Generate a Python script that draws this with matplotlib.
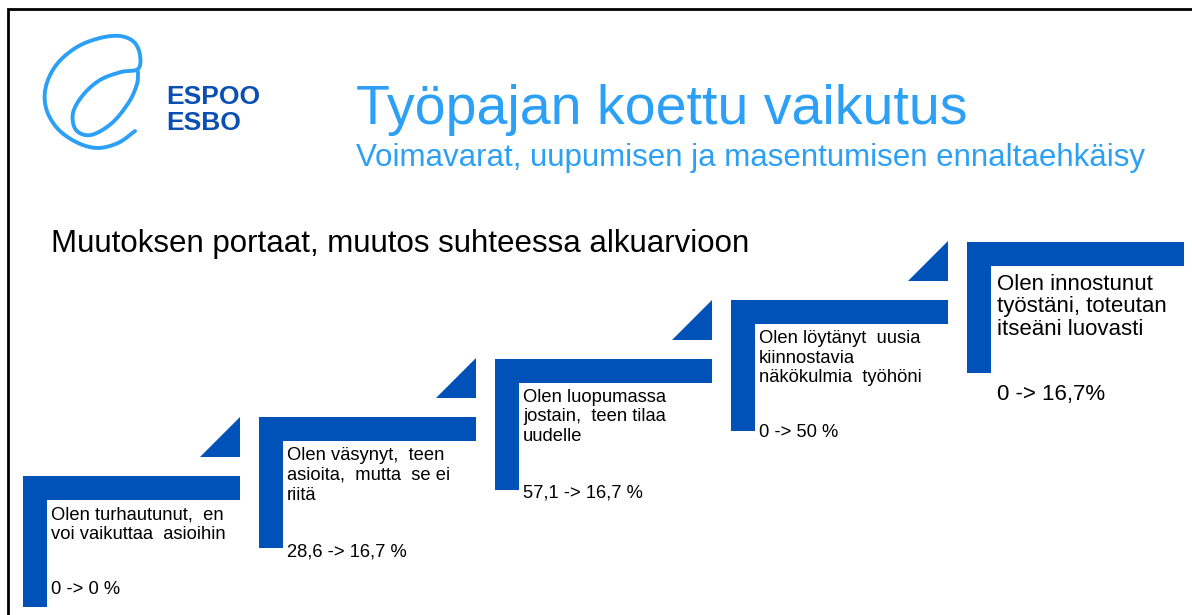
import matplotlib.pyplot as plt
import numpy as np
from matplotlib.patches import Rectangle, Polygon

plt.rcParams['font.family'] = ['Liberation Sans', 'DejaVu Sans']

# data
title = "Työpajan koettu vaikutus"
subtitle = "Voimavarat, uupumisen ja masentumisen ennaltaehkäisy"
heading = "Muutoksen portaat, muutos suhteessa alkuarvioon"
labels = ["Olen turhautunut,  en\nvoi vaikuttaa  asioihin",
          "Olen väsynyt,  teen\nasioita,  mutta  se ei\nriitä",
          "Olen luopumassa\njostain,  teen tilaa\nuudelle",
          "Olen löytänyt  uusia\nkiinnostavia\nnäkökulmia  työhöni",
          "Olen innostunut\ntyöstäni, toteutan\nitseäni luovasti"]
before = [0, 28.6, 57.1, 0, 0]
after = [0, 16.7, 16.7, 50, 16.7]
pct_sep = [" ", " ", " ", " ", ""]

# colours
step_blue = '#0051b8'
light_blue = '#2ca0f6'
logo_blue = '#0a4fb2'


def fmt(v):
    if v == int(v):
        return str(int(v))
    return ('%.1f' % v).replace('.', ',')


def catmull(pts, n=20):
    pts = np.asarray(pts, float)
    p = np.vstack([pts[0], pts, pts[-1]])
    out = []
    t = np.linspace(0, 1, n)[:, None]
    for i in range(1, len(p) - 2):
        p0, p1, p2, p3 = p[i - 1], p[i], p[i + 1], p[i + 2]
        out.append(0.5 * (2 * p1 + (-p0 + p2) * t
                          + (2 * p0 - 5 * p1 + 4 * p2 - p3) * t ** 2
                          + (-p0 + 3 * p1 - 3 * p2 + p3) * t ** 3))
    return np.vstack(out)


fig = plt.figure(figsize=(11.92, 6.15), dpi=100)
ax = fig.add_axes([0, 0, 1, 1])
ax.set_xlim(0, 1192)
ax.set_ylim(615, 0)
ax.axis('off')

# slide frame (top + left)
ax.plot([8, 8, 1192], [615, 9, 9], color='black', lw=2, solid_joinstyle='miter')

# logo loop
loop = [(135, 131), (118, 143), (97, 148), (76, 142), (57, 128), (46, 108),
        (46, 86), (57, 64), (77, 47), (100, 38), (120, 36), (134, 42),
        (140, 55), (138, 69), (121, 72), (100, 80), (83, 95), (73, 113),
        (76, 130), (91, 135), (112, 123), (129, 102), (137, 84), (138, 72)]
c = catmull(loop)
ax.plot(c[:, 0], c[:, 1], color=light_blue, lw=2.8, solid_capstyle='round')
ax.text(166, 104, "ESPOO", fontsize=19, fontweight='bold', color=logo_blue, va='baseline')
ax.text(166, 130, "ESBO", fontsize=19, fontweight='bold', color=logo_blue, va='baseline')

# titles
ax.text(356, 124, title, fontsize=40, color=light_blue, va='baseline')
ax.text(356, 166, subtitle, fontsize=22.5, color=light_blue, va='baseline')
ax.text(51, 252, heading, fontsize=22.5, color='black', va='baseline')

# staircase
x_start, y_start = 23, 476
dx, dy = 236, -58.6
w, h, th = 217, 131, 24
n = len(labels)
val_off = [114, 135, 134, 132, 153]
for i in range(n):
    x0 = x_start + i * dx
    y0 = y_start + i * dy
    ax.add_patch(Rectangle((x0, y0), w, th, color=step_blue, lw=0))
    ax.add_patch(Rectangle((x0, y0), th, h, color=step_blue, lw=0))
    if i < n - 1:
        ax.add_patch(Polygon([(x0 + w - 40, y0 - 19), (x0 + w, y0 - 19), (x0 + w, y0 - 59)],
                             closed=True, color=step_blue, lw=0))
    big = i == n - 1
    fs = 16 if big else 13.2
    tx = x0 + (30 if big else 28)
    ax.text(tx, y0 + (32 if big else 30), labels[i], fontsize=fs, va='top',
            linespacing=1.1 if big else 1.2, color='black')
    ax.text(tx, y0 + val_off[i], "%s -> %s%s%%" % (fmt(before[i]), fmt(after[i]), pct_sep[i]),
            fontsize=fs, va='center', color='black')

fig.savefig('out.png', dpi=100)
